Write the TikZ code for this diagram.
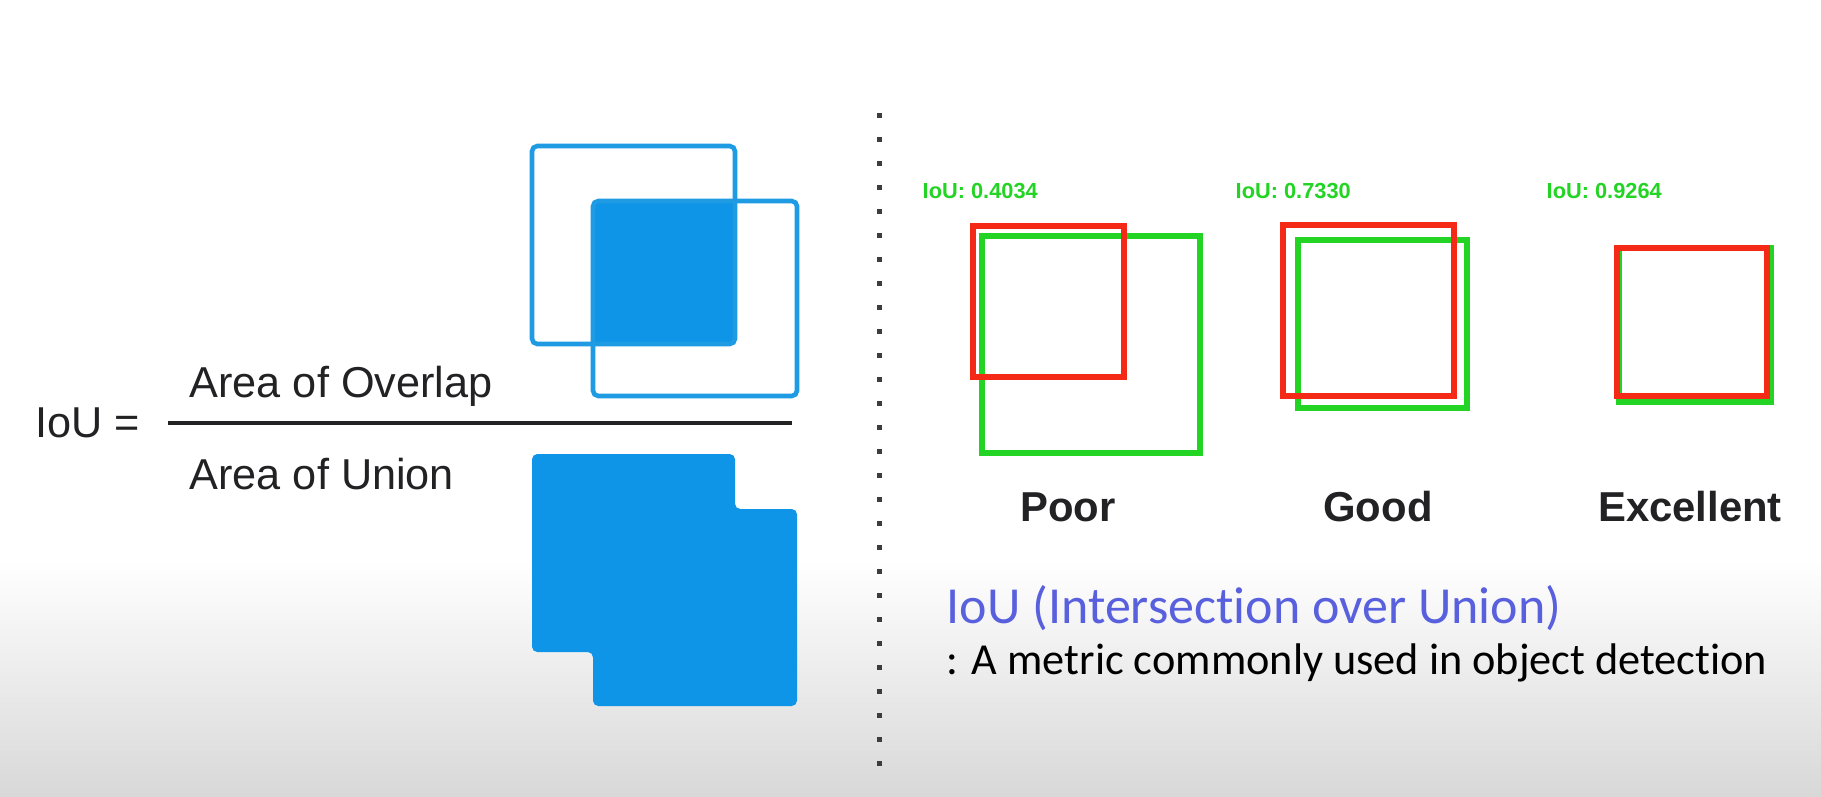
\documentclass[tikz,border=0pt]{standalone}
\usepackage{fontspec}
\setmainfont{Liberation Sans}
\newfontfamily\captionfont[Ligatures=NoCommon]{Carlito}
\definecolor{ioublue}{RGB}{30,155,226}
\definecolor{ioufill}{RGB}{14,149,232}
\definecolor{boxred}{RGB}{245,42,22}
\definecolor{boxgreen}{RGB}{36,212,36}
\definecolor{inkdark}{RGB}{34,34,36}
\definecolor{titleblue}{RGB}{88,96,222}
\definecolor{bggray}{RGB}{216,216,216}
\definecolor{dotgray}{RGB}{60,60,60}

\begin{document}
\begin{tikzpicture}[x=0.1mm,y=-0.1mm,
    formula/.style={font=\fontsize{12.3}{14}\selectfont,text=inkdark,inner sep=0pt,anchor=base west},
    iouframe/.style={draw=ioublue,line width=1.3pt,rounded corners=1.5pt},
    iousolid/.style={fill=ioufill,rounded corners=1.5pt},
    gtbox/.style={draw=boxgreen,line width=1.5pt},
    predbox/.style={draw=boxred,line width=1.5pt},
    scorelabel/.style={font=\bfseries\fontsize{6.2}{7}\selectfont,text=boxgreen,inner sep=0pt,anchor=base west},
    verdict/.style={font=\bfseries\fontsize{11.9}{14}\selectfont,text=inkdark,inner sep=0pt,anchor=base},
    caption/.style={font=\captionfont\fontsize{#1}{#1}\selectfont,inner sep=0pt,anchor=base west}
]
\useasboundingbox (0,0) rectangle (1821,796);
\fill[white] (0,0) rectangle (1821,796);
\shade[top color=white,bottom color=bggray] (0,560) rectangle (1821,796);
\node[formula] (iou) at (35,437) {IoU =};
\node[formula] (overlap) at (189,397) {Area of Overlap};
\node[formula] (union) at (189,489) {Area of Union};
\coordinate (barleft) at (168,423);
\coordinate (barright) at (792,423);
\draw[inkdark,line width=1pt] (barleft)--(barright);
\fill[iousolid] (593,201) rectangle (735,344);
\draw[iouframe] (532,146) rectangle (735,344);
\draw[iouframe] (593,201) rectangle (797,396);
\fill[iousolid] (532,454)--(735,454)--(735,509)--(797,509)--(797,706)
    --(593,706)--(593,652)--(532,652)--cycle;
\foreach \k in {0,...,27}
    \fill[dotgray] (876.5,113+24*\k) rectangle ++(5,5);
\node[scorelabel] (poorscore) at (922,198) {IoU: 0.4034};
\node[scorelabel] (goodscore) at (1235,198) {IoU: 0.7330};
\node[scorelabel] (bestscore) at (1546,198) {IoU: 0.9264};
\draw[gtbox] (982,236) rectangle (1200,453);
\draw[predbox] (973,226) rectangle (1124,377);
\draw[gtbox] (1298,240) rectangle (1467,408);
\draw[predbox] (1283,225) rectangle (1454,396);
\draw[gtbox] (1619,248) rectangle (1771,402);
\draw[predbox] (1617,248) rectangle (1767,396);
\node[verdict] (poor) at (1068,521) {Poor};
\node[verdict] (good) at (1378,521) {Good};
\node[verdict] (excellent) at (1690,521) {Excellent};
\node[caption=14.8,text=titleblue] (title) at (946,623) {IoU (Intersection over Union)};
\node[caption=12.6,text=black] (subtitle) at (946,674) {: A metric commonly used in object detection};
\end{tikzpicture}
\end{document}
